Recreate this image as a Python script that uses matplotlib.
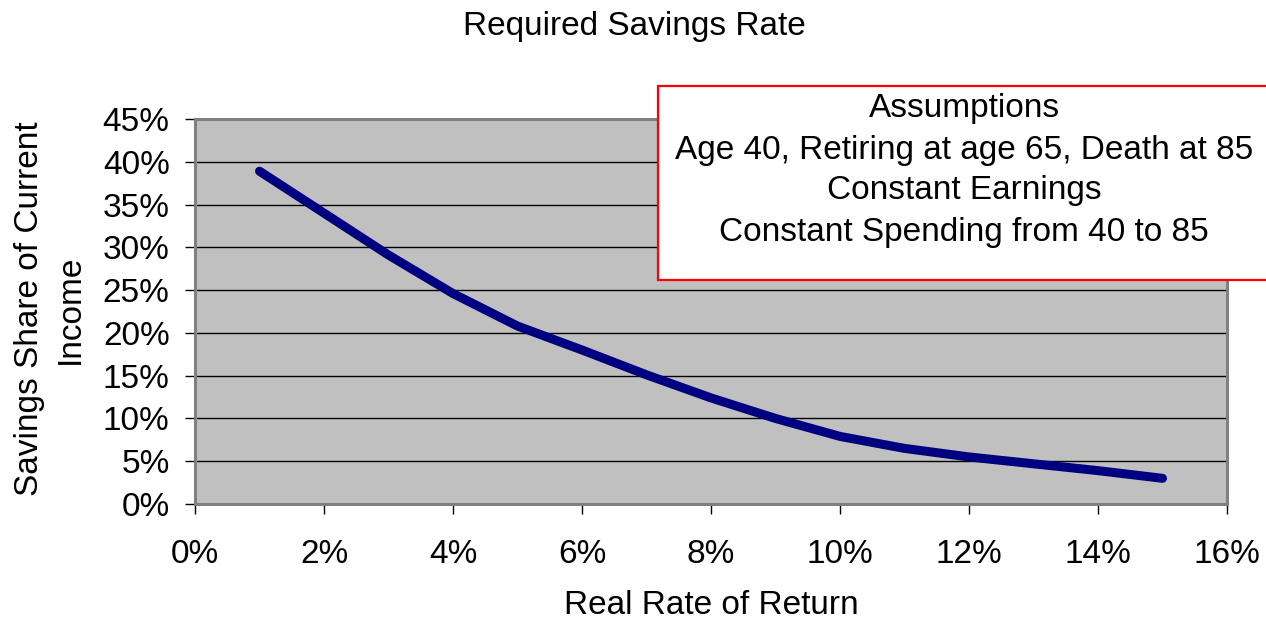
import matplotlib
matplotlib.use("Agg")
import matplotlib.pyplot as plt
from matplotlib.patches import Rectangle
from matplotlib.ticker import PercentFormatter

plt.rcParams['font.family'] = ['Liberation Sans', 'DejaVu Sans']

# Data (percent)
real_return = [1, 2, 3, 4, 5, 6, 7, 8, 9, 10, 11, 12, 13, 14, 15]
savings_share = [38.9, 34.0, 29.1, 24.6, 20.8, 18.0, 15.1, 12.4, 10.0, 7.9, 6.5, 5.5, 4.7, 3.9, 3.0]

x_ticks = [0, 2, 4, 6, 8, 10, 12, 14, 16]
y_ticks = [0, 5, 10, 15, 20, 25, 30, 35, 40, 45]

assumptions = [
    "Assumptions",
    "Age 40, Retiring at age 65, Death at 85",
    "Constant Earnings",
    "Constant Spending from 40 to 85",
]

W, H = 1266, 622
fig = plt.figure(figsize=(W / 100, H / 100), dpi=100)
ax = fig.add_axes([195 / W, 1 - 504 / H, (1227 - 195) / W, (504 - 119) / H])

ax.set_facecolor('#c0c0c0')
ax.plot(real_return, savings_share, color='#000080', linewidth=6.5,
        solid_capstyle='round', solid_joinstyle='round', zorder=3)

ax.set_xlim(0, 16)
ax.set_ylim(0, 45)
ax.set_xticks(x_ticks)
ax.set_yticks(y_ticks)
ax.xaxis.set_major_formatter(PercentFormatter(decimals=0))
ax.yaxis.set_major_formatter(PercentFormatter(decimals=0))
ax.yaxis.grid(True, color='black', linewidth=1)
ax.set_axisbelow(True)

for s in ax.spines.values():
    s.set_color('#808080')
    s.set_linewidth(2.2)

ax.tick_params(axis='both', direction='out', length=7.2, width=1, color='black',
               labelsize=24)
ax.tick_params(axis='x', pad=18)
ax.tick_params(axis='y', pad=11)

fig.text(634 / W, 1 - 26 / H, "Required Savings Rate", ha='center', va='center', fontsize=24)
fig.text(711 / W, 1 - 605 / H, "Real Rate of Return", ha='center', va='center', fontsize=24)
fig.text(50 / W, 1 - 309 / H, "Savings Share of Current\nIncome", rotation=90,
         ha='center', va='center', multialignment='center', fontsize=24, linespacing=1.38)

# assumptions box
box = Rectangle((658 / W, 1 - 280 / H), (1275 - 658) / W, (280 - 86.5) / H,
                transform=fig.transFigure, facecolor='white', edgecolor='red',
                linewidth=1.6, zorder=5)
fig.add_artist(box)
line_y = [108, 150, 191, 232]
for txt, yy in zip(assumptions, line_y):
    fig.text(964 / W, 1 - yy / H, txt, ha='center', va='center', fontsize=24, zorder=6)

fig.savefig('out.png', dpi=100)
